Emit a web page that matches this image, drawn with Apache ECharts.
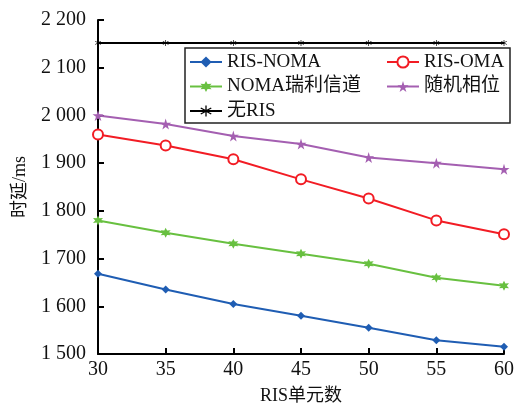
<!DOCTYPE html>
<html>
<head>
<meta charset="utf-8">
<script src="https://cdn.jsdelivr.net/npm/echarts@6/dist/echarts.min.js"></script>
<style>html,body{margin:0;padding:0;background:#fff;}#c{width:517px;height:410px;}</style>
</head>
<body>
<div id="c"></div>
<script>
const xValues = [30, 35, 40, 45, 50, 55, 60];
const risNoma = [1668, 1635, 1605, 1580, 1555, 1529, 1515];
const risOma = [1960, 1937, 1908, 1866, 1826, 1780, 1751];
const nomaRayleigh = [1780, 1754, 1731, 1710, 1689, 1660, 1643];
const randomPhase = [2000, 1982, 1957, 1940, 1912, 1900, 1887];
const noRis = [2152, 2152, 2152, 2152, 2152, 2152, 2152];
const seriesNames = ['RIS-NOMA', 'RIS-OMA', 'NOMA瑞利信道', '随机相位', '无RIS'];

const FONT = "'Liberation Serif', 'Noto Sans CJK SC', serif";
const pair = arr => xValues.map((x, i) => [x, arr[i]]);

const chart = echarts.init(document.getElementById('c'), null, {renderer: 'canvas'});

function mk(name, data, color, symbol, size, fill) {
  return {
    name, type: 'line', data: pair(data),
    symbol, symbolSize: size, showSymbol: true,
    lineStyle: {color, width: 2},
    itemStyle: {color: fill ? color : '#fff', borderColor: color, borderWidth: fill ? 0 : 2},
    emphasis: {disabled: true},
    animation: false, z: 2
  };
}

const starPath = 'path://M50,0 L61,35 L98,35 L68,57 L79,91 L50,70 L21,91 L32,57 L2,35 L39,35 Z';
const asterisk = 'path://M45,0 L55,0 L55,38 L88,19 L93,28 L60,47 L60,53 L93,72 L88,81 L55,62 L55,100 L45,100 L45,62 L12,81 L7,72 L40,53 L40,47 L7,28 L12,19 L45,38 Z';
const sixStar = 'path://M50,0 L62,28 L93,25 L74,50 L93,75 L62,72 L50,100 L38,72 L7,75 L26,50 L7,25 L38,28 Z';

const labelStyle = {fontFamily: FONT, fontSize: 19, color: '#111', lineHeight: 20};

const option = {
  backgroundColor: '#fff',
  animation: false,
  textStyle: {fontFamily: FONT},
  grid: {left: 98, right: 11, top: 20, bottom: 53, containLabel: false},
  xAxis: {
    type: 'value', min: 30, max: 60, interval: 5,
    name: 'RIS单元数', nameLocation: 'middle', nameGap: 33,
    nameTextStyle: {fontFamily: FONT, fontSize: 18, color: '#111'},
    axisLine: {show: true, lineStyle: {color: '#000', width: 2}},
    axisTick: {show: true, inside: true, length: 6, lineStyle: {color: '#000', width: 2}},
    axisLabel: {fontFamily: FONT, fontSize: 20, color: '#111', margin: 6},
    splitLine: {show: false}
  },
  yAxis: {
    type: 'value', min: 1500, max: 2200, interval: 100,
    name: '时延/ms', nameLocation: 'middle', nameGap: 69, nameRotate: 90,
    nameTextStyle: {fontFamily: FONT, fontSize: 18, color: '#111'},
    axisLine: {show: true, lineStyle: {color: '#000', width: 2}},
    axisTick: {show: true, inside: true, length: 6, lineStyle: {color: '#000', width: 2}},
    axisLabel: {
      fontFamily: FONT, fontSize: 20, color: '#111', margin: 12,
      formatter: v => { const s = String(v); return s.length > 3 ? s.slice(0, s.length - 3) + ' ' + s.slice(-3) : s; }
    },
    splitLine: {show: false}
  },
  legend: [
    {
      data: ['RIS-NOMA', 'NOMA瑞利信道', '无RIS'],
      orient: 'vertical', left: 189, top: 52, padding: 0, itemGap: 4.5,
      itemWidth: 32, itemHeight: 14, z: 5,
      textStyle: labelStyle
    },
    {
      data: ['RIS-OMA', '随机相位'],
      orient: 'vertical', left: 386, top: 52, padding: 0, itemGap: 4.5,
      itemWidth: 32, itemHeight: 14, z: 5,
      textStyle: labelStyle
    }
  ],
  graphic: [{
    type: 'rect', z: 3,
    shape: {x: 185, y: 48, width: 325, height: 75},
    style: {fill: '#fff', stroke: '#222', lineWidth: 1.5}
  }],
  series: [
    mk('无RIS', noRis, '#000000', asterisk, 6, true),
    mk('随机相位', randomPhase, '#a45fb1', starPath, 11, true),
    mk('RIS-OMA', risOma, '#f21c24', 'circle', 10, false),
    mk('NOMA瑞利信道', nomaRayleigh, '#68c040', sixStar, 10, true),
    mk('RIS-NOMA', risNoma, '#1f5db3', 'diamond', 8, true)
  ]
};
chart.setOption(option);
</script>
</body>
</html>
